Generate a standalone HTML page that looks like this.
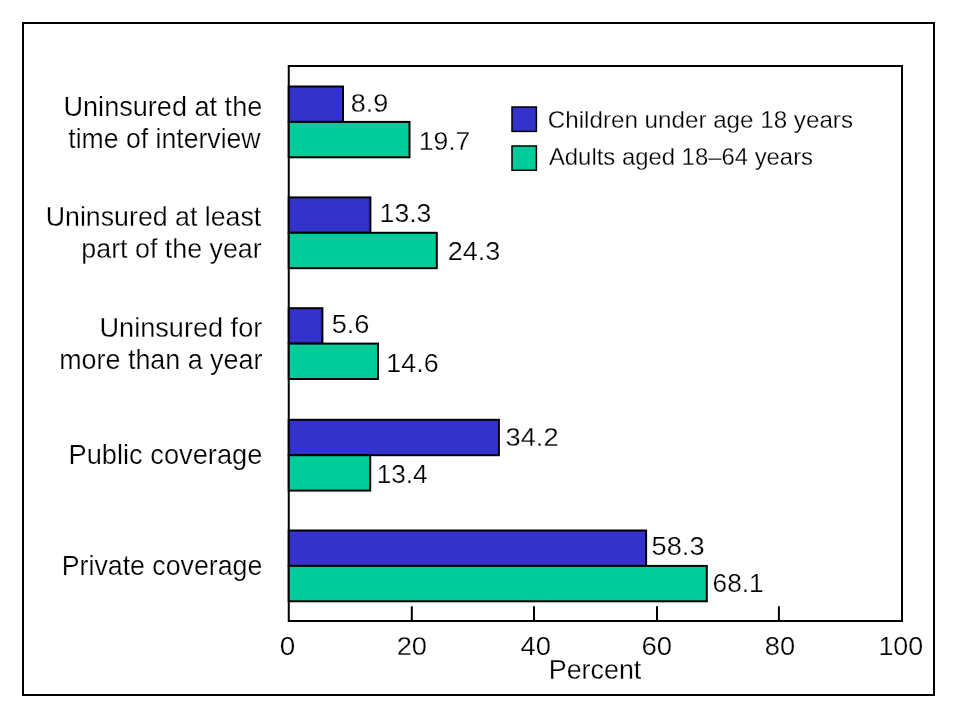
<!DOCTYPE html>
<html lang="en">
<head>
<meta charset="utf-8">
<title>Health insurance coverage chart</title>
<style>
html,body{margin:0;padding:0;background:#fff;}
body{width:960px;height:720px;overflow:hidden;font-family:"Liberation Sans",Arial,Helvetica,sans-serif;}
svg{display:block;}
text{font-family:"Liberation Sans",Arial,Helvetica,sans-serif;fill:#000;stroke:#fff;stroke-width:0.25px;}
</style>
</head>
<body>
<svg width="960" height="720" viewBox="0 0 960 720">
<rect x="0" y="0" width="960" height="720" fill="#ffffff"/>
<rect x="23" y="23" width="911" height="672" fill="none" stroke="#000" stroke-width="2"/>
<rect x="288.75" y="66" width="613.25" height="555" fill="none" stroke="#000" stroke-width="2"/>
<line x1="411.80" y1="606.3" x2="411.80" y2="621" stroke="#000" stroke-width="2"/>
<line x1="534.00" y1="606.3" x2="534.00" y2="621" stroke="#000" stroke-width="2"/>
<line x1="657.00" y1="606.3" x2="657.00" y2="621" stroke="#000" stroke-width="2"/>
<line x1="778.90" y1="606.3" x2="778.90" y2="621" stroke="#000" stroke-width="2"/>
<rect x="288.75" y="86.5" width="54.25" height="35.4" fill="#3333cc" stroke="#000" stroke-width="2"/>
<rect x="288.75" y="121.9" width="120.75" height="35.4" fill="#00cc99" stroke="#000" stroke-width="2"/>
<rect x="288.75" y="197.4" width="81.65" height="35.4" fill="#3333cc" stroke="#000" stroke-width="2"/>
<rect x="288.75" y="232.8" width="148.05" height="35.4" fill="#00cc99" stroke="#000" stroke-width="2"/>
<rect x="288.75" y="308.2" width="33.65" height="35.4" fill="#3333cc" stroke="#000" stroke-width="2"/>
<rect x="288.75" y="343.6" width="89.25" height="35.4" fill="#00cc99" stroke="#000" stroke-width="2"/>
<rect x="288.75" y="419.8" width="210.15" height="35.4" fill="#3333cc" stroke="#000" stroke-width="2"/>
<rect x="288.75" y="455.2" width="81.45" height="35.4" fill="#00cc99" stroke="#000" stroke-width="2"/>
<rect x="288.75" y="530.5" width="357.35" height="35.4" fill="#3333cc" stroke="#000" stroke-width="2"/>
<rect x="288.75" y="565.9" width="418.05" height="35.4" fill="#00cc99" stroke="#000" stroke-width="2"/>
<rect x="512" y="107" width="24.4" height="24.4" fill="#3333cc" stroke="#000" stroke-width="1.5"/>
<rect x="512" y="146" width="24.4" height="24.3" fill="#00cc99" stroke="#000" stroke-width="1.5"/>
<text transform="translate(63.48,115.90) scale(1.0116,1)" font-size="26.8">Uninsured at the</text>
<text transform="translate(68.25,147.90) scale(0.9940,1)" font-size="26.8">time of interview</text>
<text transform="translate(45.75,226.00) scale(0.9981,1)" font-size="26.8">Uninsured at least</text>
<text transform="translate(81.35,257.90) scale(1.0008,1)" font-size="26.8">part of the year</text>
<text transform="translate(99.48,337.00) scale(1.0120,1)" font-size="26.8">Uninsured for</text>
<text transform="translate(59.24,368.75) scale(1.0032,1)" font-size="26.8">more than a year</text>
<text transform="translate(68.51,464.00) scale(1.0171,1)" font-size="26.8">Public coverage</text>
<text transform="translate(61.76,575.00) scale(0.9975,1)" font-size="26.8">Private coverage</text>
<text transform="translate(548.74,678.75) scale(1.0028,1)" font-size="26.8">Percent</text>
<text transform="translate(350.82,112.00) scale(1.0800,1)" font-size="25">8.9</text>
<text transform="translate(418.67,150.00) scale(1.0637,1)" font-size="25">19.7</text>
<text transform="translate(379.62,221.90) scale(1.0626,1)" font-size="25">13.3</text>
<text transform="translate(447.65,260.00) scale(1.0811,1)" font-size="25">24.3</text>
<text transform="translate(331.71,333.25) scale(1.0870,1)" font-size="25">5.6</text>
<text transform="translate(386.35,372.20) scale(1.0747,1)" font-size="25">14.6</text>
<text transform="translate(505.61,446.10) scale(1.0882,1)" font-size="25">34.2</text>
<text transform="translate(376.65,483.00) scale(1.0489,1)" font-size="25">13.4</text>
<text transform="translate(651.56,555.00) scale(1.0892,1)" font-size="25">58.3</text>
<text transform="translate(712.59,592.00) scale(1.0508,1)" font-size="25">68.1</text>
<text transform="translate(279.68,654.80) scale(1.1167,1)" font-size="25">0</text>
<text transform="translate(396.64,654.80) scale(1.0902,1)" font-size="25">20</text>
<text transform="translate(520.45,654.80) scale(1.0933,1)" font-size="25">40</text>
<text transform="translate(641.52,654.80) scale(1.1020,1)" font-size="25">60</text>
<text transform="translate(764.71,654.80) scale(1.0913,1)" font-size="25">80</text>
<text transform="translate(878.45,654.80) scale(1.0735,1)" font-size="25">100</text>
<text transform="translate(547.80,127.75) scale(1.0435,1)" font-size="23.2">Children under age 18 years</text>
<text transform="translate(548.90,165.10) scale(1.0297,1)" font-size="23.2">Adults aged 18–64 years</text>
</svg>
</body>
</html>
